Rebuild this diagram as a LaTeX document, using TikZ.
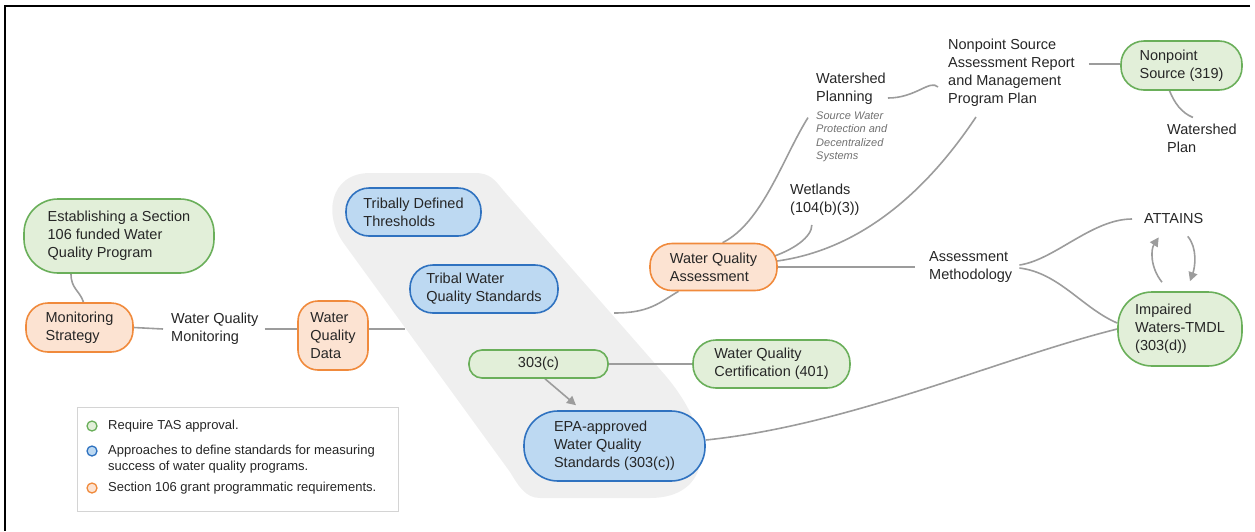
\documentclass[tikz,border=0pt]{standalone}
\usepackage{fontspec}
\setmainfont{Liberation Sans}
\usetikzlibrary{arrows.meta,backgrounds}
\definecolor{gfill}{HTML}{E2EFD9}
\definecolor{gdraw}{HTML}{6AAF5A}
\definecolor{bfill}{HTML}{BDD9F2}
\definecolor{bdraw}{HTML}{2F72C0}
\definecolor{ofill}{HTML}{FCE3D2}
\definecolor{odraw}{HTML}{F08A3C}
\definecolor{regfill}{HTML}{EFEFEF}
\definecolor{lgray}{HTML}{9C9C9C}
\definecolor{txt}{HTML}{262626}
\definecolor{subtxt}{HTML}{707070}
\definecolor{legdraw}{HTML}{D4D4D4}
\newcommand\dgmfont{\fontsize{14.5}{18}\selectfont}
\newcommand\subfont{\fontsize{11}{13.5}\selectfont\itshape}
\newcommand\legfont{\fontsize{13}{16}\selectfont}
\begin{document}
\begin{tikzpicture}[x=1pt,y=-1pt,
  box/.style={rectangle, align=left, font=\dgmfont, text=txt, line width=1.6pt, inner sep=0pt},
  gbox/.style={box, draw=gdraw, fill=gfill},
  bbox/.style={box, draw=bdraw, fill=bfill},
  obox/.style={box, draw=odraw, fill=ofill},
  lbl/.style={align=left, font=\dgmfont, text=txt, inner sep=0pt, anchor=west},
  sublbl/.style={align=left, font=\subfont, text=subtxt, inner sep=0pt, anchor=west},
  leglbl/.style={align=left, font=\legfont, text=txt, inner sep=0pt, anchor=west},
  legc/.style={circle, line width=1.3pt, minimum size=10pt, inner sep=0pt},
  conn/.style={draw=lgray, line width=1.6pt},
  ahead/.style={-{Triangle[length=9pt,width=9pt]}}
]
\useasboundingbox (0,0) rectangle (1255,531);
\draw[black, line width=2pt] (1250,6) -- (5,6) -- (5,531);

% nodes
\node[gbox, minimum width=190pt, minimum height=74pt, rounded corners=34pt] (est) at (119,236) {Establishing a Section\\106 funded Water\\Quality Program};
\node[obox, minimum width=107pt, minimum height=49pt, rounded corners=22pt] (ms) at (79.5,327.5) {Monitoring\\Strategy};
\node[lbl] (wqm) at (171,329) {Water Quality\\Monitoring};
\node[obox, minimum width=70pt, minimum height=69pt, rounded corners=20pt] (wqd) at (333,335.5) {Water\\Quality\\Data};

\node[bbox, minimum width=135pt, minimum height=48pt, rounded corners=23pt] (tdt) at (413.5,212) {Tribally Defined\\Thresholds};
\node[bbox, minimum width=148pt, minimum height=48pt, rounded corners=23pt] (tws) at (484,289) {Tribal Water\\Quality Standards};
\node[gbox, minimum width=139pt, minimum height=28pt, rounded corners=13pt, align=center] (c303) at (538.5,364) {303(c)};
\node[bbox, minimum width=181pt, minimum height=70pt, rounded corners=34pt] (epa) at (614.5,446) {EPA-approved\\Water Quality\\Standards (303(c))};
\node[gbox, minimum width=157pt, minimum height=48pt, rounded corners=23pt] (wqc) at (771.5,364) {Water Quality\\Certification (401)};

\node[obox, minimum width=127pt, minimum height=47pt, rounded corners=22pt] (wqa) at (713.5,267) {Water Quality\\Assessment};
\node[lbl] (wsp) at (816,89) {Watershed\\Planning};
\node[sublbl] (swp) at (816,137) {Source Water\\Protection and\\Decentralized\\Systems};
\node[lbl] (wet) at (790,200) {Wetlands\\(104(b)(3))};
\node[lbl] (npsa) at (948,73) {Nonpoint Source\\Assessment Report\\and Management\\Program Plan};
\node[gbox, minimum width=121pt, minimum height=49pt, rounded corners=23pt] (nps) at (1181.5,65.5) {Nonpoint\\Source (319)};
\node[lbl] (wsplan) at (1167,138) {Watershed\\Plan};
\node[lbl] (am) at (929,267) {Assessment\\Methodology};
\node[lbl] (att) at (1144,219) {ATTAINS};
\node[gbox, minimum width=124pt, minimum height=74pt, rounded corners=34pt] (imp) at (1180,329) {Impaired\\Waters-TMDL\\(303(d))};

% legend
\node[draw=legdraw, fill=white, line width=1pt, minimum width=321pt, minimum height=104pt, inner sep=0pt] (leg) at (237.5,459) {};
\node[legc, draw=gdraw, fill=gfill] (lc1) at (92,426) {};
\node[legc, draw=bdraw, fill=bfill] (lc2) at (92,451) {};
\node[legc, draw=odraw, fill=ofill] (lc3) at (92,488) {};
\node[leglbl] (lt1) at (108,426) {Require TAS approval.};
\node[leglbl] (lt2) at (108,459) {Approaches to define standards for measuring\\success of water quality programs.};
\node[leglbl] (lt3) at (108,488) {Section 106 grant programmatic requirements.};

\begin{scope}[on background layer]
\fill[regfill] (370,173) -- (475,173)
  .. controls (490,173) and (495,180) .. (503,190)
  -- (665,375)
  .. controls (720,440) and (710,498) .. (650,498)
  -- (540,498)
  .. controls (525,498) and (518,485) .. (510,472)
  -- (345,245)
  .. controls (322,215) and (330,173) .. (370,173) -- cycle;
\coordinate (g1) at (405,329);
\coordinate (g2) at (614,313);

\draw[conn] ([xshift=-48pt]est.south) .. controls +(0,15) and +(-4,-12) .. ([xshift=4pt]ms.north);
\draw[conn] (ms.east) -- ([xshift=-8pt]wqm.west);
\draw[conn] ([xshift=6pt]wqm.east) -- (wqd.west |- wqm.east);
\draw[conn] (wqd.east |- wqm.east) -- (g1);
\draw[conn] (g2) .. controls +(35,0) and +(-20,12) .. ([xshift=-35pt]wqa.south);
\draw[conn] ([xshift=9pt]wqa.north) .. controls +(40,-20) and +(-25,40) .. ([xshift=-8pt,yshift=-6pt]swp.north west);
\draw[conn] ([xshift=-9pt,yshift=9pt]wqa.east) .. controls +(25,-8) and +(0,12) .. ([xshift=-13pt,yshift=-9pt]wet.south);
\draw[conn] ([xshift=-9pt,yshift=5pt]wqa.east) .. controls +(100,-10) and +(-40,60) .. ([xshift=28pt,yshift=-10pt]npsa.south west);
\draw[conn] (wqa.east) -- ([xshift=-14pt]am.west);
\draw[conn] ([xshift=2pt,yshift=-9pt]wsp.east) .. controls +(28,0) and +(-8,-8) .. ([xshift=-10pt,yshift=-14pt]npsa.west);
\draw[conn] ([xshift=14pt,yshift=9pt]npsa.east) -- ([yshift=1.5pt]nps.west);
\draw[conn] ([xshift=-12pt]nps.south) .. controls +(5,12) and +(-12,-5) .. ([xshift=-9pt,yshift=6pt]wsplan.north);
\draw[conn] ([xshift=7pt,yshift=2pt]am.east) .. controls +(35,-5) and +(-40,0) .. ([xshift=-12pt]att.west);
\draw[conn] ([xshift=7pt,yshift=-1pt]am.east) .. controls +(40,5) and +(-35,-15) .. ([yshift=6pt]imp.west);
\draw[conn] ([yshift=6pt]epa.east) .. controls +(145,-15) and +(-120,30) .. (imp.west);
\draw[conn, ahead] ([xshift=-18pt,yshift=9pt]imp.north) .. controls +(-12,-15) and +(-8,12) .. ([xshift=-15pt,yshift=-13pt]att.south);
\draw[conn, ahead] ([xshift=14pt,yshift=-12pt]att.south) .. controls +(10,12) and +(5,-14) .. ([xshift=10pt,yshift=10pt]imp.north);
\draw[conn, ahead] ([xshift=6.5pt]c303.south) -- ([xshift=-38.5pt,yshift=5pt]epa.north);
\draw[conn] (c303.east) -- (wqc.west);
\end{scope}
\end{tikzpicture}
\end{document}
